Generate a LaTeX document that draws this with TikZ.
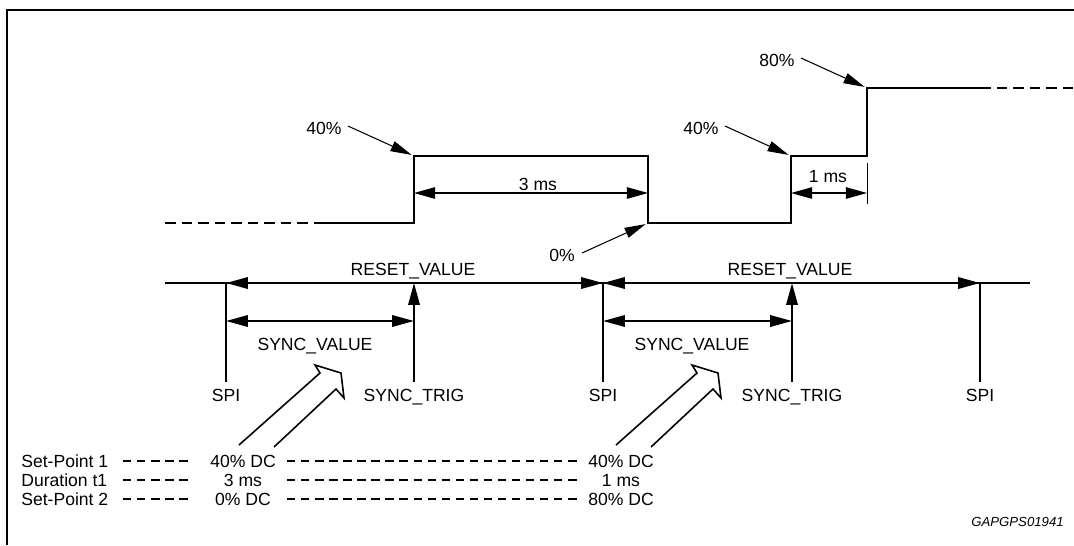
\documentclass[tikz,border=0pt]{standalone}
\usepackage{fontspec}
\setmainfont{Liberation Sans}
\usetikzlibrary{arrows.meta}
\begin{document}
\begin{tikzpicture}[x=0.02cm,y=-0.02cm,
  wave/.style={line width=1.3pt, line join=miter},
  wavedash/.style={line width=1.3pt, dash pattern=on 6pt off 3.4pt},
  tline/.style={line width=1.2pt},
  tip/.style={-{Triangle[length=12.5pt,width=6.5pt]}},
  dimthick/.style={line width=1.2pt, {Triangle[length=12.5pt,width=6.5pt]}-{Triangle[length=12.5pt,width=6.5pt]}},
  dimthin/.style={line width=0.75pt, {Triangle[length=12pt,width=6.5pt]}-{Triangle[length=12pt,width=6.5pt]}},
  ptr/.style={line width=0.6pt, -{Triangle[length=12pt,width=6pt]}, shorten >=1.5pt},
  lbl/.style={font=\fontsize{10}{12}\selectfont, inner sep=0pt, text height=7.2pt, text depth=0pt},
  hollow/.style={line width=0.9pt, line join=miter},
  lead/.style={line width=1pt, dash pattern=on 4.8pt off 3.2pt},
  frame/.style={line width=1.5pt},
]
\useasboundingbox (0,0) rectangle (1074,545);
% frame
\draw[frame] (7,545) -- (7,10) -- (1074,10);

% waveform corners
\coordinate (r1) at (414,156);
\coordinate (f1) at (648,223);
\coordinate (r2) at (791,156);
\coordinate (r3) at (867,88);
\draw[wavedash] (165,223) -- (317,223);
\draw[wave] (317,223) -- (414,223) -- (r1) -- (648,156) -- (f1) -- (791,223) -- (r2) -- (867,156) -- (r3) -- (980,88);
\draw[wavedash] (980,88) -- (1074,88);

% pointer labels
\node[lbl] (p40a) at (324,128) {40\%};
\node[lbl] (p40b) at (701,128) {40\%};
\node[lbl] (p80) at (777,60) {80\%};
\node[lbl] (p0) at (562,255) {0\%};
\draw[ptr] ([shift={(6,-2)}]p40a.east) -- (r1);
\draw[ptr] ([shift={(6,-2)}]p40b.east) -- (r2);
\draw[ptr] ([shift={(6,-2)}]p80.east) -- (r3);
\draw[ptr] ([shift={(7,-2)}]p0.east) -- (f1);

% duration dimensions
\coordinate (d3a) at (414,193);
\coordinate (d3b) at (648,193);
\draw[dimthin] (d3a) -- (d3b);
\node[lbl] (t3) at (538,184) {3 ms};
\coordinate (d1a) at (791,193);
\coordinate (d1b) at (867,193);
\coordinate (k1) at (867,163);
\coordinate (k2) at (867,204);
\draw[line width=0.4pt] (k1) -- (k2);
\draw[dimthin] (d1a) -- (d1b);
\node[lbl] (t1) at (828,176) {1 ms};

% timeline
\coordinate (tl0) at (165,283);
\coordinate (tl9) at (1030,283);
\draw[tline] (tl0) -- (tl9);
\coordinate (s1) at (226,283);
\coordinate (s2) at (603,283);
\coordinate (s3) at (980,283);
\coordinate (g1) at (414,283);
\coordinate (g2) at (792,283);
\coordinate (s1b) at (226,382);
\coordinate (s2b) at (603,382);
\coordinate (s3b) at (980,382);
\coordinate (g1b) at (414,382);
\coordinate (g2b) at (792,382);
\draw[tline] (s1) -- (s1b);
\draw[tline] (s2) -- (s2b);
\draw[tline] (s3) -- (s3b);
\draw[tline, tip] (g1b) -- (g1);
\draw[tline, tip] (g2b) -- (g2);
\draw[dimthick] (s1) -- (s2);
\draw[dimthick] (s2) -- (s3);
\node[lbl] (rv1) at (413,269) {RESET\_VALUE};
\node[lbl] (rv2) at (790,269) {RESET\_VALUE};
\coordinate (v1a) at (226,321);
\coordinate (v1b) at (414,321);
\coordinate (v2a) at (603,321);
\coordinate (v2b) at (792,321);
\draw[dimthick] (v1a) -- (v1b);
\draw[dimthick] (v2a) -- (v2b);
\node[lbl] (sv1) at (315,344) {SYNC\_VALUE};
\node[lbl] (sv2) at (692,344) {SYNC\_VALUE};
\node[lbl] (spi1) at (226,395) {SPI};
\node[lbl] (spi2) at (603,395) {SPI};
\node[lbl] (spi3) at (980,395) {SPI};
\node[lbl] (st1) at (414,395) {SYNC\_TRIG};
\node[lbl] (st2) at (792,395) {SYNC\_TRIG};

% hollow arrows
\foreach \dx in {0,377}{
  \draw[hollow, shift={(\dx,0)}] (239,445) -- (320,373) -- (315,365) -- (341,373) -- (344,398) -- (336,389) -- (274,447);
}

% table
\node[lbl, anchor=west] (sp1) at (21,461) {Set-Point 1};
\node[lbl, anchor=west] (dt1) at (21,480) {Duration t1};
\node[lbl, anchor=west] (sp2) at (21,499) {Set-Point 2};
\node[lbl] (a1) at (243,461) {40\% DC};
\node[lbl] (a2) at (243,480) {3 ms};
\node[lbl] (a3) at (243,499) {0\% DC};
\node[lbl] (b1) at (621,461) {40\% DC};
\node[lbl] (b2) at (621,480) {1 ms};
\node[lbl] (b3) at (621,499) {80\% DC};
\foreach \yy in {461,480,499}{
  \draw[lead] (123,\yy) -- (188,\yy);
  \draw[lead] (287,\yy) -- (577,\yy);
}
\node[font=\fontsize{7.5}{9}\selectfont\itshape, inner sep=0pt, anchor=east] (id) at (1064,522) {GAPGPS01941};
\end{tikzpicture}
\end{document}
